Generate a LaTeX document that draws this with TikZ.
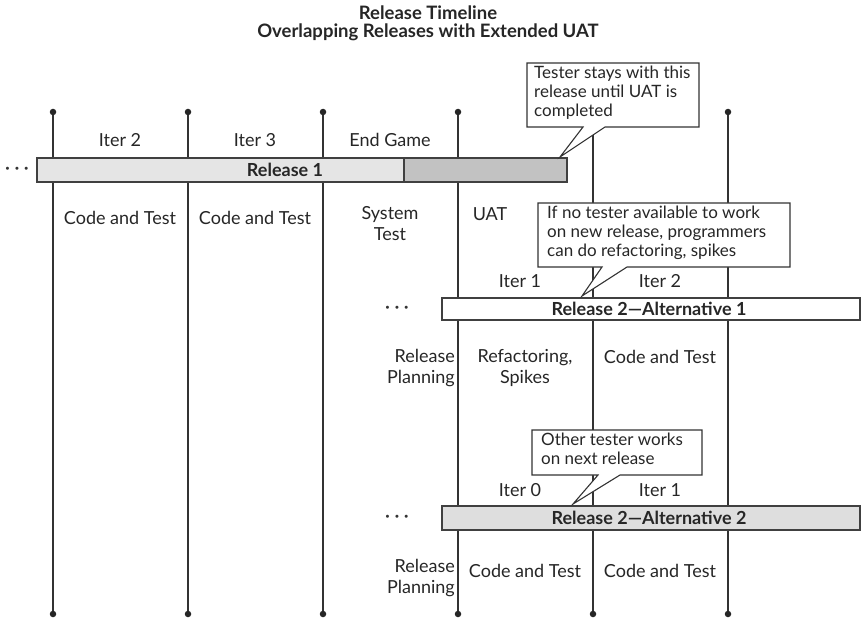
\documentclass[tikz,border=0pt]{standalone}
\usepackage{fontspec}
\setmainfont{Lato}
\begin{document}
\begin{tikzpicture}[x=1pt,y=-1pt,
  vline/.style={draw=black!80,line width=1.1pt},
  tdot/.style={circle,fill=black!85,inner sep=0pt,minimum size=6.5pt},
  lbl/.style={font=\fontsize{18}{21}\selectfont,inner sep=0pt,align=center,text=black!85},
  bar/.style={draw=black!75,line width=1.1pt},
  bartext/.style={font=\fontsize{18}{20}\selectfont\bfseries,text=black!85,inner sep=0pt},
  cbox/.style={inner sep=0pt,align=left,font=\fontsize{17}{19}\selectfont,text=black!85},
  cline/.style={draw=black!80,line width=1.1pt,fill=white,line join=miter},
  ellip/.style={font=\fontsize{16}{18}\selectfont\bfseries,text=black!80,inner sep=0pt}]
\useasboundingbox (0,0) rectangle (861,620);
% title
\node[font=\fontsize{18.5}{20}\selectfont\bfseries,text=black!85] (t1) at (428,13) {Release Timeline};
\node[font=\fontsize{18.5}{20}\selectfont\bfseries,text=black!85] (t2) at (428,32) {Overlapping Releases with Extended UAT};
% vertical lines with dots
\foreach \n/\x in {a/53,b/188,c/323,d/458,e/593,f/728}{
  \coordinate (top\n) at (\x,112);
  \coordinate (bot\n) at (\x,614);
  \draw[vline] (top\n) -- (bot\n);
  \node[tdot] at (top\n) {};
  \node[tdot] at (bot\n) {};
}
% Release 1 bar
\coordinate (r1a) at (37,158); \coordinate (r1b) at (404,182);
\coordinate (r1c) at (404,158); \coordinate (r1d) at (567,182);
\fill[black!10] (r1a) rectangle (r1b);
\fill[black!24] (r1c) rectangle (r1d);
\draw[bar] (r1a) rectangle (r1d);
\draw[bar] (r1c) -- (r1b);
\node[bartext] (r1) at (285,170) {Release 1};
\node[ellip] (e1) at (17,170) {·\hspace{5pt}·\hspace{5pt}·};
% Release 2 Alt 1
\coordinate (r2a) at (442,298); \coordinate (r2b) at (860,320);
\draw[bar,fill=white] (r2a) rectangle (r2b);
\node[bartext] (r2) at (649,309) {Release 2---Alternative 1};
\node[ellip] (e2) at (397,309) {·\hspace{5pt}·\hspace{5pt}·};
% Release 2 Alt 2
\coordinate (r3a) at (442,506); \coordinate (r3b) at (860,530);
\draw[bar,fill=black!13] (r3a) rectangle (r3b);
\node[bartext] (r3) at (649,518) {Release 2---Alternative 2};
\node[ellip] (e3) at (397,518) {·\hspace{5pt}·\hspace{5pt}·};
% labels row 1
\node[lbl] (i2) at (120,140) {Iter 2};
\node[lbl] (i3) at (255,140) {Iter 3};
\node[lbl] (eg) at (390,140) {End Game};
\node[lbl] (ct1) at (120,218) {Code and Test};
\node[lbl] (ct2) at (255,218) {Code and Test};
\node[lbl] (st) at (390,224) {System\\Test};
\node[lbl] (uat) at (490,214) {UAT};
% labels row 2
\node[lbl] (a1i1) at (520,281) {Iter 1};
\node[lbl] (a1i2) at (660,281) {Iter 2};
\node[lbl,align=right,anchor=east] (rp1) at (455,368) {Release\\Planning};
\node[lbl] (rf) at (525,368) {Refactoring,\\Spikes};
\node[lbl] (ct3) at (660,357) {Code and Test};
% labels row 3
\node[lbl] (a2i0) at (520,490) {Iter 0};
\node[lbl] (a2i1) at (660,490) {Iter 1};
\node[lbl,align=right,anchor=east] (rp2) at (455,578) {Release\\Planning};
\node[lbl] (ct4) at (525,571) {Code and Test};
\node[lbl] (ct5) at (660,571) {Code and Test};
% callout 1
\coordinate (c1nw) at (527,63); \coordinate (c1se) at (699,127);
\coordinate (c1tip) at (560,157);
\draw[cline] (c1nw) -- (c1nw -| c1se) -- (c1se) -- (605,127) -- (c1tip) -- (583,127) -- (c1nw |- c1se) -- cycle;
\node[cbox,anchor=north west] (c1) at (534,66) {Tester stays with this\\release until UAT is\\completed};
% callout 2
\coordinate (c2nw) at (538,203); \coordinate (c2se) at (790,267);
\coordinate (c2tip) at (582,296);
\draw[cline] (c2nw) -- (c2nw -| c2se) -- (c2se) -- (627,267) -- (c2tip) -- (602,267) -- (c2nw |- c2se) -- cycle;
\node[cbox,anchor=north west] (c2) at (547,206) {If no tester available to work\\on new release, programmers\\can do refactoring, spikes};
% callout 3
\coordinate (c3nw) at (532,430); \coordinate (c3se) at (702,475);
\coordinate (c3tip) at (573,504);
\draw[cline] (c3nw) -- (c3nw -| c3se) -- (c3se) -- (620,475) -- (c3tip) -- (598,475) -- (c3nw |- c3se) -- cycle;
\node[cbox,anchor=north west] (c3) at (541,433) {Other tester works\\on next release};
\end{tikzpicture}
\end{document}
